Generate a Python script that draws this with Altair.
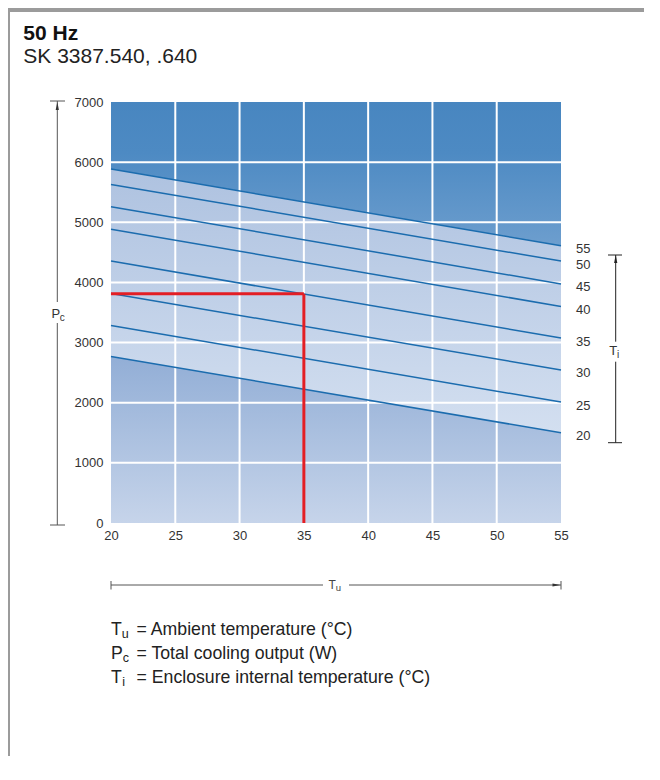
import altair as alt
import pandas as pd

# ---------------- data ----------------
ti_values = [20, 25, 30, 35, 40, 45, 50, 55]            # enclosure internal temperature curves
pc_at_tu20 = [2770, 3285, 3815, 4355, 4885, 5260, 5630, 5885]  # cooling output at Tu = 20
pc_at_tu55 = [1500, 2010, 2545, 3075, 3600, 3975, 4355, 4610]  # cooling output at Tu = 55
tu_ends = [20, 55]
x_ticks = [20, 25, 30, 35, 40, 45, 50, 55]
y_ticks = [0, 1000, 2000, 3000, 4000, 5000, 6000, 7000]
red_tu = 35
red_pc = 3810

FONT = "Liberation Sans"
W, H = 450, 421

# ---------------- tables ----------------
lines_df = pd.DataFrame(
    [{"ti": t, "tu": tu_ends[0], "pc": a} for t, a in zip(ti_values, pc_at_tu20)]
    + [{"ti": t, "tu": tu_ends[1], "pc": b} for t, b in zip(ti_values, pc_at_tu55)]
)
ends_df = pd.DataFrame({"ti": ti_values, "tu": tu_ends[1], "pc": pc_at_tu55})
top_df = pd.DataFrame({"tu": tu_ends, "lo": [pc_at_tu20[-1], pc_at_tu55[-1]],
                       "hi": [y_ticks[-1], y_ticks[-1]]})
band_df = pd.DataFrame({"tu": tu_ends, "lo": [pc_at_tu20[0], pc_at_tu55[0]],
                        "hi": [pc_at_tu20[-1], pc_at_tu55[-1]]})
bot_df = pd.DataFrame({"tu": tu_ends, "lo": [0, 0],
                       "hi": [pc_at_tu20[0], pc_at_tu55[0]]})
vgrid_df = pd.DataFrame({"tu": x_ticks[1:-1]})
hgrid_df = pd.DataFrame({"pc": y_ticks[1:-1]})
red_df = pd.DataFrame({"tu0": [x_ticks[0]], "tu1": [red_tu], "pc": [red_pc], "zero": [0]})

xs = alt.Scale(domain=[x_ticks[0], x_ticks[-1]], nice=False, zero=False)
ys = alt.Scale(domain=[y_ticks[0], y_ticks[-1]], nice=False)
xa = alt.Axis(values=x_ticks, title=None, labelPadding=6, labelFlush=False, labelOverlap=False,
              format="d")
ya = alt.Axis(values=y_ticks, title=None, labelPadding=8, labelOverlap=False, format="d")


def X(f):
    return alt.X(f"{f}:Q", scale=xs, axis=xa)


def Y(f):
    return alt.Y(f"{f}:Q", scale=ys, axis=ya)


def grad(c0, c1, mid=None):
    stops = [alt.GradientStop(offset=0, color=c0)]
    if mid:
        stops.append(alt.GradientStop(offset=mid[0], color=mid[1]))
    stops.append(alt.GradientStop(offset=1, color=c1))
    return alt.LinearGradient(gradient="linear", stops=stops, x1=0, x2=0, y1=0, y2=1)


top = alt.Chart(top_df).mark_area(color=grad("#4886c0", "#6d9ece", (0.35, "#4d8ac3")), opacity=1).encode(
    x=X("tu"), y=Y("lo"), y2="hi")
band = alt.Chart(band_df).mark_area(color=grad("#aec2e0", "#d3dff0"), opacity=1).encode(
    x=X("tu"), y=Y("lo"), y2="hi")
bot = alt.Chart(bot_df).mark_area(color=grad("#92aed6", "#c6d4ea"), opacity=1).encode(
    x=X("tu"), y=Y("lo"), y2="hi")

vgrid = alt.Chart(vgrid_df).mark_rule(color="white", strokeWidth=2).encode(x=X("tu"))
hgrid = alt.Chart(hgrid_df).mark_rule(color="white", strokeWidth=2).encode(y=Y("pc"))

lines = alt.Chart(lines_df).mark_line(color="#1b6cae", strokeWidth=1.5).encode(
    x=X("tu"), y=Y("pc"), detail="ti:N")
labels = alt.Chart(ends_df).mark_text(align="left", baseline="middle", dx=15, dy=3.5,
                                      font=FONT, fontSize=13, color="#333").encode(
    x=X("tu"), y=Y("pc"), text="ti:N")

red_h = alt.Chart(red_df).mark_rule(color="#e31e24", strokeWidth=3).encode(
    x=X("tu0"), x2="tu1", y=Y("pc"))
red_v = alt.Chart(red_df).mark_rule(color="#e31e24", strokeWidth=3).encode(
    x=X("tu1"), y=Y("pc"), y2="zero")

ONE = alt.Data(values=[{"a": 1}])


def rule(x1, y1, x2, y2, color="#555", w=1):
    return alt.Chart(ONE).mark_rule(color=color, strokeWidth=w).encode(
        x=alt.value(x1), x2=alt.value(x2), y=alt.value(y1), y2=alt.value(y2))


def rect(x1, y1, x2, y2, color):
    return alt.Chart(ONE).mark_rect(color=color).encode(
        x=alt.value(x1), x2=alt.value(x2), y=alt.value(y1), y2=alt.value(y2))


def txt(s, x, y, size, weight="normal", color="#222"):
    return alt.Chart(ONE).mark_text(text=s, font=FONT, fontSize=size, fontWeight=weight,
                                    align="left", baseline="alphabetic", color=color).encode(
        x=alt.value(x), y=alt.value(y))


def head(path, x, y, color):
    return alt.Chart(ONE).mark_point(shape=path, filled=True, size=64, color=color, opacity=1,
                                     strokeWidth=0).encode(x=alt.value(x), y=alt.value(y))


UP = "M-0.4,1L0,-1L0.4,1Z"
RIGHT = "M-1,-0.4L1,0L-1,0.4Z"

deco = [
    # frame
    rect(-103, -94, 533, -90, "#9b9b9b"),
    rect(-103, -94, -101, 654, "#9b9b9b"),
    # titles
    txt("50 Hz", -87.7, -62, 21, "bold", "#111"),
    txt("SK 3387.540, .640", -87.7, -39.3, 21, "normal", "#222"),
    # Pc arrow
    rule(-53.7, -1, -53.7, 200),
    rule(-53.7, 221, -53.7, 423),
    rule(-61, -1, -46, -1),
    rule(-61, 423, -46, 423),
    head(UP, -53.7, 4, "#333"),
    txt("P", -59.5, 216.3, 13, color="#333"),
    txt("c", -51.3, 219, 10, color="#333"),
    # Ti arrow
    rule(504.7, 153, 504.7, 239.7, "#222"),
    rule(504.7, 259.7, 504.7, 340.7, "#222"),
    rule(497, 153, 511, 153, "#222"),
    rule(497, 340.7, 511, 340.7, "#222"),
    head(UP, 504.7, 157, "#222"),
    txt("T", 498.3, 253, 13, color="#333"),
    txt("i", 506, 256, 10, color="#333"),
    # Tu arrow
    rule(0, 483, 212, 483),
    rule(238, 483, 450, 483),
    rule(0, 479, 0, 487.5),
    rule(450, 479, 450, 487.5),
    head(RIGHT, 445.5, 483, "#333"),
    txt("T", 217.5, 487, 12, color="#444"),
    txt("u", 224.8, 489.3, 9.5, color="#444"),
    # legend
    txt("T", 0, 533, 17.7),
    txt("u", 10.7, 536, 12.5),
    txt("= Ambient temperature (°C)", 25.5, 533, 17.7),
    txt("P", 0, 557, 17.7),
    txt("c", 11.7, 560, 12.5),
    txt("= Total cooling output (W)", 25.5, 557, 17.7),
    txt("T", 0, 581, 17.7),
    txt("i", 11.2, 584, 12.5),
    txt("= Enclosure internal temperature (°C)", 25.5, 581, 17.7),
]

chart = alt.layer(top, band, bot, vgrid, hgrid, lines, labels, red_h, red_v, *deco).properties(
    width=W, height=H,
    autosize=alt.AutoSizeParams(type="none"),
    padding={"left": 103, "top": 94, "right": 91, "bottom": 241},
    background="white",
).configure_view(strokeWidth=0).configure_axis(
    grid=False, domain=False, ticks=False,
    labelFont=FONT, labelFontSize=13, labelColor="#333",
)

chart.save("out.html", embed_options={"renderer": "svg", "actions": False})
